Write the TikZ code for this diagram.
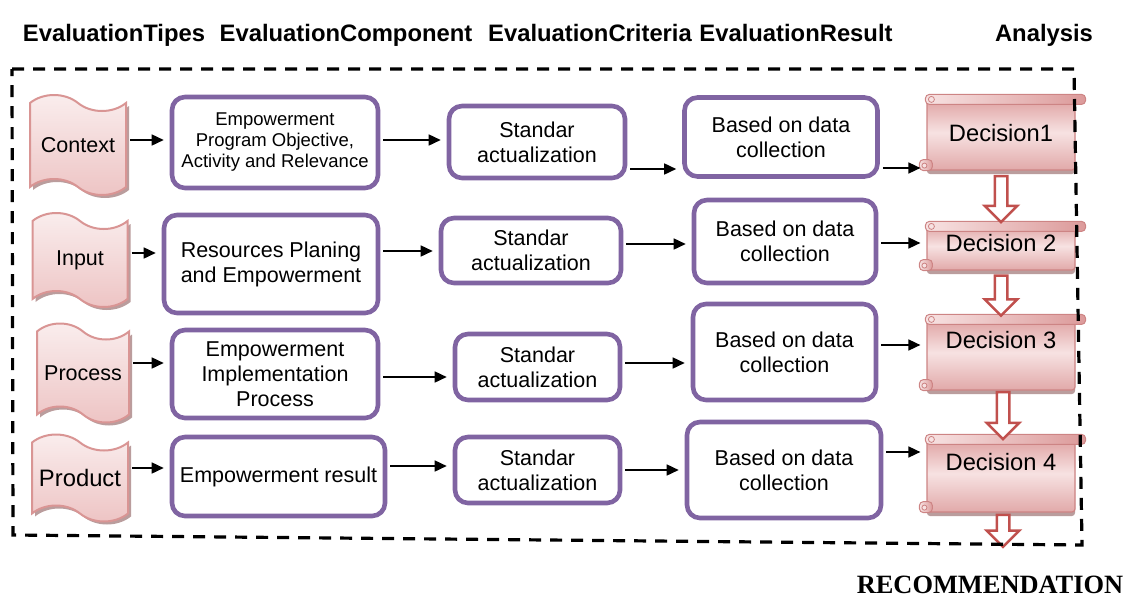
\documentclass[tikz,border=0pt]{standalone}
\usepackage{fontspec}
\setmainfont{Liberation Sans}
\newfontfamily\recfont{Liberation Serif}
\usetikzlibrary{shapes.symbols,shapes.arrows,shadows,arrows.meta,calc}

\definecolor{boxpurple}{HTML}{8064A2}
\definecolor{tapeedge}{HTML}{D99594}
\definecolor{tapelight}{HTML}{FAEEEE}
\definecolor{tapepink}{HTML}{EDC3C3}
\definecolor{decedge}{HTML}{CD8484}
\definecolor{decdark}{HTML}{DC9A9A}
\definecolor{declight}{HTML}{F7E2E2}
\definecolor{downred}{HTML}{C0504D}
\definecolor{hatch}{HTML}{A98484}

\tikzset{
  head/.style={font=\bfseries\fontsize{23.8}{28}\selectfont, anchor=base},
  body/.style={font=\fontsize{21.5}{25}\selectfont, align=center},
  typebox/.style={tape, tape bend top=out and in, tape bend bottom=out and in,
    tape bend height=16pt, draw=tapeedge, line width=2pt,
    top color=tapelight, bottom color=tapepink, inner sep=0pt, body,
    drop shadow={shadow xshift=3pt, shadow yshift=-3pt, fill=hatch, opacity=.8}},
  compbox/.style={rectangle, draw=boxpurple, line width=4.6pt, rounded corners=13pt,
    fill=white, inner sep=0pt, body},
  decbox/.style={rectangle, rounded corners=3pt, draw=decedge, line width=1.2pt,
    top color=decdark, bottom color=decdark!85!white, middle color=declight,
    minimum width=148pt, inner sep=0pt, font=\fontsize{23.7}{28}\selectfont,
    drop shadow={shadow xshift=0pt, shadow yshift=-4pt, fill=hatch, opacity=.8}},
  band/.style={rounded corners=4pt, draw=decedge, line width=1pt,
    left color=declight, right color=decdark},
  downarr/.style={single arrow, rotate=-90, draw=downred, line width=2.5pt,
    fill=white, inner sep=5pt, single arrow head extend=10pt},
  arr/.style={-{Triangle[length=12pt,width=11pt]}, line width=1.6pt,
    shorten <=3pt, shorten >=6pt},
  frame/.style={line width=3.2pt, dash pattern=on 12pt off 9pt},
}

\begin{document}
\begin{tikzpicture}[x=1pt,y=-1pt]
  \useasboundingbox (0,0) rectangle (1127,597);

  % column titles
  \node[head] (htypes) at (114,41) {EvaluationTipes};
  \node[head] (hcomp) at (346,41) {EvaluationComponent};
  \node[head] (hcrit) at (590,41) {EvaluationCriteria};
  \node[head] (hres) at (796,41) {EvaluationResult};
  \node[head] (hana) at (1044,41) {Analysis};

  % evaluation types
  \node[typebox, minimum width=96pt, minimum height=100pt] (ctx) at (78,145) {Context};
  \node[typebox, minimum width=95pt, minimum height=94pt] (inp) at (80,260) {Input};
  \node[typebox, minimum width=92pt, minimum height=99pt] (proc) at (83,373) {Process};
  \node[typebox, minimum width=96pt, minimum height=87pt,
    font=\fontsize{23.8}{28}\selectfont] (prod) at (80,478) {Product};

  % components
  \node[compbox, minimum width=206pt, minimum height=91pt,
    font=\fontsize{18.5}{21}\selectfont] (comp1) at (275,142.5)
    {Empowerment\\Program Objective,\\Activity and Relevance};
  \node[compbox, minimum width=214pt, minimum height=98pt] (comp2) at (271,264)
    {Resources Planing\\and Empowerment};
  \node[compbox, minimum width=206pt, minimum height=88pt] (comp3) at (275,374)
    {Empowerment\\Implementation\\Process};
  \node[compbox, minimum width=213pt, minimum height=79pt] (comp4) at (278.5,476.5)
    {Empowerment result};

  % criteria
  \node[compbox, minimum width=176pt, minimum height=72pt] (crit1) at (537,142)
    {Standar\\actualization};
  \node[compbox, minimum width=180pt, minimum height=65pt] (crit2) at (531,250.5)
    {Standar\\actualization};
  \node[compbox, minimum width=165pt, minimum height=66pt] (crit3) at (537.5,367)
    {Standar\\actualization};
  \node[compbox, minimum width=165pt, minimum height=66pt] (crit4) at (537.5,470)
    {Standar\\actualization};

  % results
  \node[compbox, minimum width=193pt, minimum height=79pt] (res1) at (781,137)
    {Based on data\\collection};
  \node[compbox, minimum width=182pt, minimum height=83pt] (res2) at (785,241.5)
    {Based on data\\collection};
  \node[compbox, minimum width=183pt, minimum height=96pt] (res3) at (784.5,352)
    {Based on data\\collection};
  \node[compbox, minimum width=194pt, minimum height=96pt] (res4) at (784,470)
    {Based on data\\collection};

  % decisions (scrolls)
  \node[decbox, text height=46.5pt, text depth=28.5pt] (dec1) at (1001,132.5) {Decision1};
  \node[decbox, text height=29.5pt, text depth=18.5pt] (dec2) at (1001,246) {Decision 2};
  \node[decbox, text height=33.5pt, text depth=41.5pt] (dec3) at (1001,352.5) {Decision 3};
  \node[decbox, text height=35.5pt, text depth=41.5pt] (dec4) at (1001,473.5) {Decision 4};

  \foreach \d in {dec1,dec2,dec3,dec4}{
    \draw[band] ([xshift=-1pt]\d.north west) rectangle ([xshift=10pt,yshift=-10pt]\d.north east);
    \draw[decedge, fill=declight, line width=.8pt] ([xshift=5pt,yshift=-5pt]\d.north west) circle (3pt);
    \draw[band] ([xshift=-7pt,yshift=11pt]\d.south west) rectangle ([xshift=6pt]\d.south west);
    \draw[decedge, fill=declight, line width=.8pt] ([xshift=-2pt,yshift=5pt]\d.south west) circle (2.5pt);
  }

  % flow between decisions
  \node[downarr, minimum height=46pt] (d12) at ($(dec1.south)!.5!(dec2.north)$) {};
  \node[downarr, minimum height=40pt] (d23) at ($(dec2.south)!.5!(dec3.north)$) {};
  \node[downarr, minimum height=47pt] (d34) at ([xshift=2pt]$(dec3.south)!.5!(dec4.north)$) {};
  \node[downarr, minimum height=32pt, anchor=tail] (d4r) at ([xshift=2pt,yshift=-1pt]dec4.south) {};

  % row connectors
  \foreach \a/\b/\y in {ctx/comp1/140, comp1/crit1/140, crit1/res1/169, res1/dec1/168,
      inp/comp2/253, comp2/crit2/251, crit2/res2/244, res2/dec2/243,
      proc/comp3/363, comp3/crit3/377, crit3/res3/363, res3/dec3/345,
      prod/comp4/468, comp4/crit4/466, crit4/res4/470, res4/dec4/452}
    \draw[arr] (\a.east |- 0,\y) -- (\b.west |- 0,\y);

  % dashed frame
  \draw[frame] (12,69) -- (1074,69) -- (1082,545) -- (13,535) -- cycle;

  \node[anchor=base, font=\recfont\bfseries\fontsize{26.4}{30}\selectfont] (rec) at (990,593)
    {RECOMMENDATION};
\end{tikzpicture}
\end{document}
